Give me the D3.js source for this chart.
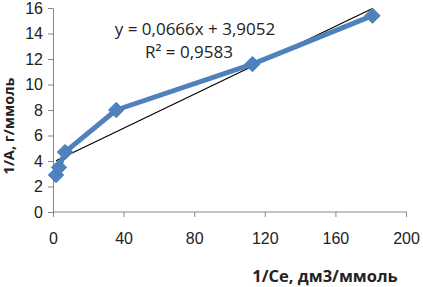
<!DOCTYPE html>
<html>
<head>
<meta charset="utf-8">
<script src="https://cdn.jsdelivr.net/npm/d3@7"></script>
<style>
  body { margin: 0; background: #fff; }
  svg { display: block; font-family: "Open Sans", Lato, sans-serif; }
  .axis path, .axis line { stroke: #868686; }
  .axis text { font-size: 16px; fill: #222; }
</style>
</head>
<body>
<div id="chart"></div>
<script>
// data
var xValues = [1.7, 3.4, 6.8, 35.8, 113, 181];
var yValues = [2.9, 3.5, 4.7, 8.0, 11.6, 15.4];
var xTicks = [0, 40, 80, 120, 160, 200];
var yTicks = [0, 2, 4, 6, 8, 10, 12, 14, 16];
var trendSlope = 0.0666, trendIntercept = 3.9052;
var equationLines = ["y = 0,0666x + 3,9052", "R² = 0,9583"];

var svgWidth = 423, svgHeight = 287;
var margin = { top: 8, right: 16, bottom: 75, left: 53 };
var width = svgWidth - margin.left - margin.right,
    height = svgHeight - margin.top - margin.bottom;

var svg = d3.select("#chart").append("svg")
  .attr("width", svgWidth)
  .attr("height", svgHeight);

var g = svg.append("g")
  .attr("transform", "translate(" + margin.left + "," + margin.top + ")");

var x = d3.scaleLinear().domain([0, 200]).range([0, 353]);
var y = d3.scaleLinear().domain([0, 16]).range([height, 0]);

// axes
g.append("g")
  .attr("class", "axis")
  .attr("transform", "translate(0," + height + ")")
  .call(d3.axisBottom(x).tickValues(xTicks).tickSize(5).tickSizeOuter(0).tickPadding(16))
  .call(function (a) { a.select(".domain").attr("d", "M0,0H" + width); });

g.append("g")
  .attr("class", "axis")
  .call(d3.axisLeft(y).tickValues(yTicks).tickSize(5).tickSizeOuter(0).tickPadding(5));

// trend line, from min x to max x
var xMin = d3.min(xValues), xMax = d3.max(xValues);
g.append("line")
  .attr("x1", x(xMin)).attr("y1", y(trendSlope * xMin + trendIntercept))
  .attr("x2", x(xMax)).attr("y2", y(trendSlope * xMax + trendIntercept))
  .attr("stroke", "#000").attr("stroke-width", 1.2);

// series
var points = xValues.map(function (d, i) { return [d, yValues[i]]; });

g.append("path")
  .datum(points)
  .attr("fill", "none")
  .attr("stroke", "#4F81BD")
  .attr("stroke-width", 5)
  .attr("stroke-linejoin", "round")
  .attr("d", d3.line().x(function (d) { return x(d[0]); }).y(function (d) { return y(d[1]); }));

g.selectAll(".marker")
  .data(points)
  .enter().append("path")
  .attr("class", "marker")
  .attr("d", d3.symbol().type(d3.symbolDiamond2).size(150))
  .attr("transform", function (d) { return "translate(" + x(d[0]) + "," + y(d[1]) + ")"; })
  .attr("fill", "#4F81BD")
  .attr("stroke", "#4A7EBB")
  .attr("stroke-width", 1);

// equation label
svg.selectAll(".eq")
  .data(equationLines)
  .enter().append("text")
  .attr("class", "eq")
  .attr("x", function (d, i) { return i == 0 ? 195 : 189; })
  .attr("y", function (d, i) { return 35 + i * 23; })
  .attr("text-anchor", "middle")
  .style("font-size", "17px")
  .attr("fill", "#222")
  .text(function (d) { return d; });

// axis titles
svg.append("text")
  .attr("transform", "translate(14,126) rotate(-90)")
  .attr("text-anchor", "middle")
  .style("font-size", "14.5px")
  .style("font-weight", "bold")
  .attr("fill", "#222")
  .text("1/А, г/ммоль");

svg.append("text")
  .attr("x", 325)
  .attr("y", 282)
  .attr("text-anchor", "middle")
  .style("font-size", "16.5px")
  .style("font-weight", "bold")
  .attr("fill", "#222")
  .text("1/Се, дм3/ммоль");
</script>
</body>
</html>
